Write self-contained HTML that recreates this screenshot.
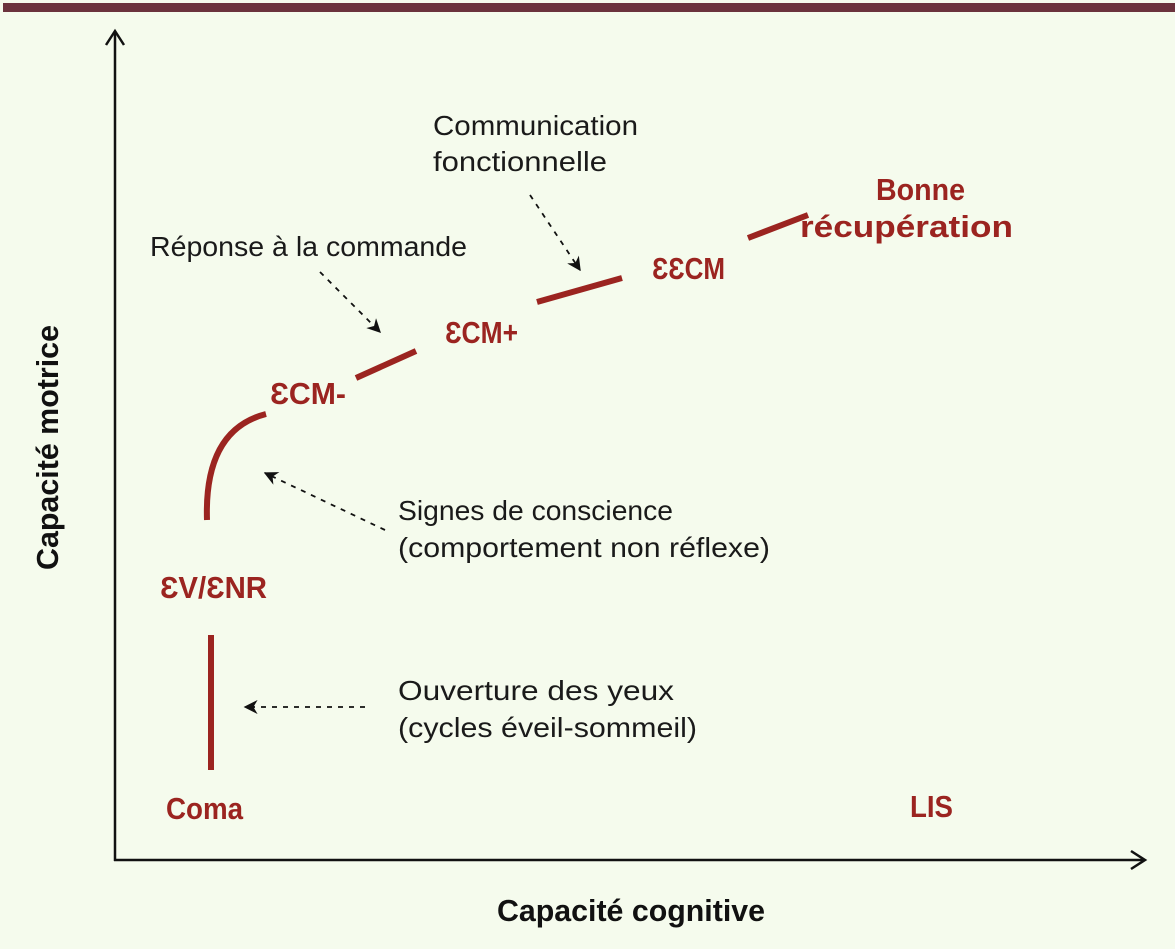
<!DOCTYPE html>
<html><head><meta charset="utf-8"><style>
html,body{margin:0;padding:0;background:#f5fbed;}
svg{display:block}
.r{font-family:"Liberation Sans","DejaVu Sans",sans-serif;font-weight:bold;fill:#9b2420;font-size:31px}
.b{font-family:"Liberation Sans","DejaVu Sans",sans-serif;fill:#1a1a1a;font-size:28px}
.k{font-family:"Liberation Sans",sans-serif;font-weight:bold;fill:#111;font-size:31px}
</style></head><body>
<svg width="1175" height="949" viewBox="0 0 1175 949">
<defs>
<marker id="a" viewBox="0 0 10 10" refX="9" refY="5" markerWidth="14" markerHeight="14" orient="auto" markerUnits="userSpaceOnUse"><path d="M0,0 L10,5 L0,10 L3,5z" fill="#111"/></marker>
</defs>
<rect x="0" y="0" width="1175" height="949" fill="#f5fbed"/>
<rect x="3" y="3" width="1172" height="9" fill="#6b333d"/>
<g stroke="#111" stroke-width="2.5" fill="none">
<line x1="115" y1="32" x2="115" y2="861"/>
<line x1="114" y1="860" x2="1144" y2="860"/>
<polyline points="106,45 115,31 124,45"/>
<polyline points="1131,851 1145,860 1131,869"/>
</g>
<g stroke="#9b2420" stroke-width="6" fill="none">
<line x1="211" y1="635" x2="211" y2="770"/>
<path d="M207,520 Q204,430 266,414"/>
<line x1="356" y1="378" x2="416" y2="351"/>
<line x1="537" y1="302" x2="622" y2="278"/>
<line x1="748" y1="238" x2="808" y2="215"/>
</g>
<g stroke="#111" stroke-width="1.8" stroke-dasharray="5,6" fill="none" marker-end="url(#a)">
<line x1="385" y1="530" x2="265" y2="473"/>
<line x1="365" y1="707" x2="245" y2="707"/>
<line x1="320" y1="272" x2="380" y2="332"/>
<line x1="530" y1="195" x2="580" y2="270"/>
</g>
<text class="r" x="166" y="819" textLength="77" lengthAdjust="spacingAndGlyphs">Coma</text>
<text class="r" x="910" y="817" textLength="43" lengthAdjust="spacingAndGlyphs">LIS</text>
<text class="r" x="160" y="598" textLength="107" lengthAdjust="spacingAndGlyphs">ƐV/ƐNR</text>
<text class="r" x="270" y="404" textLength="76" lengthAdjust="spacingAndGlyphs">ƐCM-</text>
<text class="r" x="445" y="343" textLength="73" lengthAdjust="spacingAndGlyphs">ƐCM+</text>
<text class="r" x="652" y="279" textLength="73" lengthAdjust="spacingAndGlyphs">ƐƐCM</text>
<text class="r" x="876" y="200" textLength="89" lengthAdjust="spacingAndGlyphs">Bonne</text>
<text class="r" x="800" y="237" textLength="213" lengthAdjust="spacingAndGlyphs">récupération</text>
<text class="b" x="433" y="135" textLength="205" lengthAdjust="spacingAndGlyphs">Communication</text>
<text class="b" x="433" y="171" textLength="174" lengthAdjust="spacingAndGlyphs">fonctionnelle</text>
<text class="b" x="150" y="256" textLength="317" lengthAdjust="spacingAndGlyphs">Réponse à la commande</text>
<text class="b" x="398" y="520" textLength="275" lengthAdjust="spacingAndGlyphs">Signes de conscience</text>
<text class="b" x="398" y="557" textLength="372" lengthAdjust="spacingAndGlyphs">(comportement non réflexe)</text>
<text class="b" x="398" y="700" textLength="276" lengthAdjust="spacingAndGlyphs">Ouverture des yeux</text>
<text class="b" x="398" y="737" textLength="299" lengthAdjust="spacingAndGlyphs">(cycles éveil-sommeil)</text>
<text class="k" x="497" y="921" textLength="268" lengthAdjust="spacingAndGlyphs">Capacité cognitive</text>
<text class="k" transform="translate(58,570) rotate(-90)" x="0" y="0" textLength="245" lengthAdjust="spacingAndGlyphs">Capacité motrice</text>
</svg>
</body></html>
